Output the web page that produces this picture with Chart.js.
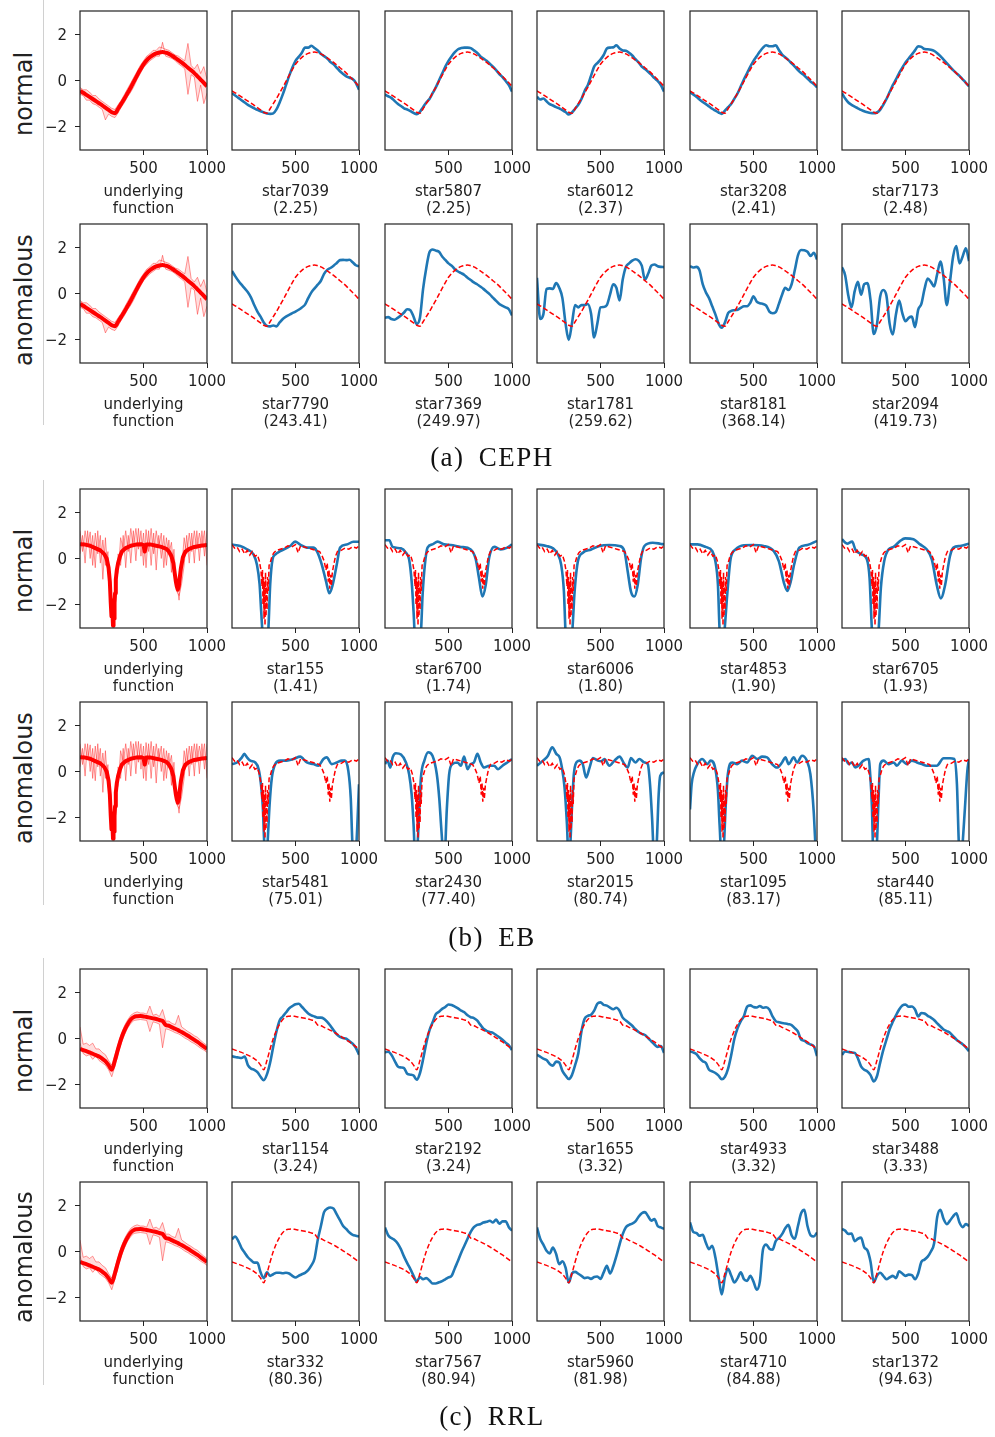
<!DOCTYPE html>
<html>
<head>
<meta charset="utf-8">
<script src="https://cdn.jsdelivr.net/npm/chart.js@4.4.0/dist/chart.umd.min.js"></script>
<style>
  html, body { margin: 0; padding: 0; background: #fff; }
  #fig { position: relative; width: 995px; height: 1437px; overflow: hidden; background: #fff; }
  .rowlab { position: absolute; font-family: "DejaVu Sans"; font-size: 24px; line-height: 24px; color: #222;
            white-space: nowrap; transform: translate(-50%, -50%) rotate(-90deg); }
  .cap { position: absolute; font-family: "Liberation Serif"; font-size: 27px; color: #111; white-space: nowrap;
         letter-spacing: 1.5px; word-spacing: 6px; transform: translate(-50%, -50%); }
  .sep { position: absolute; left: 43px; width: 1px; background: #d0d0d0; }
</style>
</head>
<body>
<div id="fig"></div>
<script>
// ---------- data ----------
const xTicks = [500, 1000]
const yTicks = [-2, 0, 2]

// common phase grid for CEPH / RRL curves
const phase = [0,25,50,75,100,125,150,175,200,225,250,275,300,325,350,375,400,425,450,475,500,
  525,550,575,600,625,650,675,700,725,750,775,800,825,850,875,900,925,950,975,1000]

// CEPH
const cephUnderlying = [-0.45,-0.53,-0.62,-0.71,-0.80,-0.89,-0.98,-1.07,-1.17,-1.27,-1.37,-1.41,-1.22,-1.00,-0.78,-0.54,-0.30,-0.04,0.22,0.47,0.70,
  0.87,1.00,1.10,1.17,1.21,1.23,1.20,1.15,1.07,0.98,0.88,0.78,0.67,0.55,0.44,0.32,0.18,0.04,-0.10,-0.25]
const cephBandA = [-0.3,-0.4,-0.4,-0.5,-0.65,-0.65,-0.8,-0.9,-1.0,-1.1,-1.2,-1.25,-1.05,-0.85,-0.6,-0.35,-0.1,0.15,0.4,0.65,0.85,
  1.05,1.15,1.3,1.3,1.45,1.4,1.35,1.3,1.2,1.1,1.05,0.95,0.85,1.6,0.65,0.5,0.7,0.3,0.6,0.05]
const cephBandB = [-0.6,-0.65,-0.85,-0.85,-1.0,-1.05,-1.15,-1.25,-1.7,-1.45,-1.55,-1.6,-1.4,-1.15,-0.95,-0.7,-0.5,-0.25,0.05,0.3,0.55,
  0.7,0.85,0.95,1.05,1.05,1.65,1.05,1.0,0.95,0.85,0.72,0.62,0.5,-0.6,0.25,0.15,-0.9,-0.2,-1.0,-0.55]

const cephNormalNames = ['star7039', 'star5807', 'star6012', 'star3208', 'star7173']
const cephNormalScores = ['(2.25)', '(2.25)', '(2.37)', '(2.41)', '(2.48)']
const star7039 = [-0.55,-0.65,-0.75,-0.85,-0.95,-1.05,-1.13,-1.2,-1.27,-1.33,-1.38,-1.42,-1.44,-1.42,-1.25,-0.95,-0.6,-0.2,0.2,0.55,0.85,
  1.02,1.2,1.42,1.42,1.5,1.4,1.3,1.15,1.05,0.95,0.8,0.7,0.55,0.4,0.28,0.18,0.12,0.06,-0.1,-0.4]
const star5807 = [-0.6,-0.68,-0.75,-0.88,-1.0,-1.1,-1.2,-1.25,-1.32,-1.4,-1.45,-1.35,-1.15,-0.95,-0.8,-0.55,-0.3,0.0,0.3,0.6,0.85,
  1.05,1.22,1.35,1.4,1.42,1.42,1.4,1.3,1.2,1.05,0.95,0.85,0.72,0.6,0.45,0.28,0.15,-0.02,-0.2,-0.48]
const star6012 = [-0.7,-0.82,-0.78,-0.9,-1.02,-1.08,-1.15,-1.2,-1.28,-1.36,-1.47,-1.38,-1.22,-1.05,-0.8,-0.45,-0.2,0.2,0.6,0.75,0.9,
  1.1,1.38,1.42,1.43,1.52,1.38,1.3,1.28,1.2,1.08,0.92,0.78,0.6,0.5,0.38,0.25,0.1,-0.02,-0.2,-0.48]
const star3208 = [-0.5,-0.6,-0.7,-0.82,-0.93,-1.02,-1.12,-1.22,-1.3,-1.38,-1.44,-1.3,-1.15,-1.0,-0.78,-0.55,-0.25,0.05,0.32,0.6,0.85,
  1.05,1.25,1.42,1.52,1.48,1.48,1.52,1.32,1.12,1.0,0.88,0.74,0.6,0.45,0.32,0.22,0.08,-0.05,-0.15,-0.3]
const star7173 = [-0.55,-0.78,-0.95,-1.05,-1.13,-1.2,-1.27,-1.33,-1.37,-1.4,-1.41,-1.38,-1.27,-1.05,-0.8,-0.5,-0.2,0.05,0.32,0.55,0.78,
  0.95,1.12,1.3,1.48,1.45,1.36,1.35,1.33,1.28,1.18,1.05,0.9,0.75,0.6,0.45,0.32,0.2,0.05,-0.1,-0.26]

const cephAnomNames = ['star7790', 'star7369', 'star1781', 'star8181', 'star2094']
const cephAnomScores = ['(243.41)', '(249.97)', '(259.62)', '(368.14)', '(419.73)']
const star7790 = [0.97,0.75,0.55,0.38,0.22,0.05,-0.18,-0.5,-0.78,-1.0,-1.25,-1.4,-1.42,-1.38,-1.42,-1.25,-1.1,-1.0,-0.92,-0.85,-0.78,
  -0.7,-0.6,-0.48,-0.2,0.05,0.22,0.38,0.55,0.85,1.02,1.1,1.2,1.32,1.44,1.45,1.44,1.46,1.35,1.22,1.17]
const star7369 = [-1.05,-1.02,-1.1,-1.13,-1.05,-0.95,-0.82,-0.68,-0.72,-1.0,-1.32,-1.05,0.2,1.1,1.78,1.9,1.85,1.8,1.6,1.45,1.3,
  1.2,1.05,0.95,0.88,0.8,0.68,0.58,0.48,0.4,0.3,0.2,0.08,-0.04,-0.18,-0.32,-0.45,-0.53,-0.6,-0.68,-0.95]
const star1781 = [0.68,-1.1,-0.9,0.2,0.22,0.2,0.45,0.25,-0.2,-1.3,-2.0,-1.3,-0.5,-0.6,-0.5,-0.5,-0.45,-0.85,-1.9,-1.3,-0.6,
  -0.58,-0.5,-0.05,0.4,0.25,-0.3,0.6,1.15,1.3,1.42,1.48,1.42,1.2,0.6,0.85,1.2,1.25,1.18,1.15,1.14]
const star8181 = [1.18,1.12,1.15,1.0,0.4,0.05,-0.2,-0.55,-0.9,-1.3,-1.48,-1.25,-0.85,-0.75,-0.72,-0.7,-0.62,-0.55,-0.55,-0.4,-0.12,
  -0.35,-0.42,-0.45,-0.52,-0.78,-0.85,-0.8,-0.45,-0.05,0.25,0.15,0.4,1.0,1.65,1.88,1.87,1.8,1.62,1.76,1.47]
const star2094 = [1.14,0.78,-0.1,-0.6,0.1,0.5,-0.05,0.4,0.45,-0.3,-1.75,-1.34,-0.15,0.15,-0.1,-1.3,-1.77,-0.9,-0.3,-0.85,-1.2,
  -1.05,-1.0,-1.45,-0.7,-0.45,0.2,0.65,0.5,0.3,0.85,1.38,0.68,-0.5,0.5,1.6,2.05,1.3,1.6,1.95,1.4]

// EB
const ebUnderlyingX = [0,40,80,120,160,190,210,225,235,242,248,252,256,260,264,268,272,276,282,290,
  300,315,330,360,400,440,480,500,510,520,560,600,640,680,700,720,735,745,755,762,770,778,785,795,810,830,860,900,950,1000]
const ebUnderlying = [0.62,0.6,0.55,0.45,0.35,0.2,0.0,-0.4,-1.0,-1.9,-2.5,-1.8,-2.4,-2.9,-2.0,-2.6,-1.9,-1.5,-0.9,-0.5,
  -0.2,0.1,0.3,0.45,0.55,0.6,0.62,0.58,0.3,0.6,0.6,0.55,0.5,0.42,0.3,0.1,-0.2,-0.6,-1.0,-1.2,-1.35,-1.2,-0.85,-0.4,0.05,0.3,0.42,0.5,0.55,0.58]
const ebBandX = [0,20,40,60,80,100,120,140,160,180,200,220,240,260,280,300,320,340,360,380,400,420,440,460,480,500,
  520,540,560,580,600,620,640,660,680,700,720,740,760,780,800,820,840,860,880,900,920,940,960,980,1000]
const ebBandA = [1.2,0.3,1.2,0.5,1.15,-0.3,1.1,0.2,1.0,-0.9,0.9,-0.6,-1.2,-2.4,-1.0,-0.6,0.9,0.4,1.2,0.3,1.3,0.5,1.3,0.4,1.2,-0.3,
  1.25,0.3,1.3,0.2,1.2,0.5,1.1,-0.4,0.9,0.2,0.7,-0.5,-1.0,-1.8,-0.5,0.9,0.2,1.1,0.3,1.2,0.4,1.1,0.5,1.2,-0.3]
const ebBandB = [0.2,1.0,-0.2,1.2,0.0,1.0,-0.4,1.2,-0.2,0.8,-0.3,0.3,-2.0,-2.8,-2.0,0.2,-0.3,1.0,-0.4,1.0,-0.2,1.2,-0.1,1.3,0.1,1.1,
  -0.4,1.2,-0.3,1.1,-0.5,1.0,0.0,1.0,-0.3,0.8,-0.6,0.4,-1.4,-1.6,-1.1,-0.3,1.0,-0.2,1.1,-0.2,1.2,-0.1,1.2,0.1,1.2]
const ebFitX = [0,20,40,60,80,100,120,140,160,180,200,215,228,236,240,244,248,252,256,260,264,268,272,276,280,285,292,300,315,330,
  350,380,410,440,470,500,520,540,570,600,630,660,690,710,725,740,750,758,764,770,776,782,790,800,815,830,860,890,920,950,980,1000]
const ebFit = [0.6,0.45,0.5,0.3,0.4,0.2,0.35,0.15,0.3,0.1,0.15,-0.1,-0.5,-1.2,-0.5,-2.0,-0.8,-2.6,-1.0,-2.9,-0.6,-2.5,-1.2,-2.2,-0.8,-1.4,-0.3,-0.2,0.1,0.25,
  0.35,0.4,0.45,0.55,0.5,0.6,0.25,0.55,0.5,0.45,0.4,0.35,0.3,0.1,-0.1,-0.5,-0.2,-1.0,-0.5,-1.3,-0.7,-1.2,-0.6,-0.3,0.1,0.3,0.35,0.45,0.4,0.5,0.45,0.55]

const ebNormalNames = ['star155', 'star6700', 'star6006', 'star4853', 'star6705']
const ebNormalScores = ['(1.41)', '(1.74)', '(1.80)', '(1.90)', '(1.93)']
const star155X = [0,65,118,170,196,217,230,245,260,275,285,301,319,340,380,458,497,537,589,640,668,707,741,767,793,825,851,903,955,1000]
const star155 = [0.6,0.54,0.4,0.17,-0.26,-1.1,-2.3,-3.6,-4.0,-3.6,-3.2,-1.1,-0.04,0.17,0.32,0.54,0.73,0.6,0.47,0.47,0.32,-0.26,-1.0,-1.5,-1.13,-0.26,0.47,0.6,0.72,0.72]
const star6700X = [0,34,60,126,165,190,210,225,240,262,283,296,314,335,374,414,466,518,597,675,715,740,767,793,820,860,910,963,1000]
const star6700 = [0.79,0.79,0.5,0.44,0.25,-0.04,-1.0,-2.3,-3.8,-4.0,-3.2,-1.57,-0.26,0.47,0.61,0.73,0.61,0.58,0.5,0.39,-0.04,-0.84,-1.64,-1.14,0.03,0.5,0.39,0.47,0.61]
const star6006X = [0,73,126,165,190,212,225,250,277,296,322,361,427,492,570,649,688,714,740,767,793,820,846,911,970,1000]
const star6006 = [0.61,0.54,0.44,0.17,-0.26,-1.43,-3.2,-4.0,-3.2,-1.43,-0.12,0.25,0.39,0.54,0.58,0.54,0.32,-0.55,-1.43,-1.64,-1.14,0.03,0.54,0.68,0.64,0.61]
const star4853X = [0,58,123,176,200,220,233,252,272,293,319,359,424,490,580,660,700,740,767,793,820,860,924,1000]
const star4853 = [0.61,0.61,0.5,0.32,-0.12,-1.14,-3.1,-4.0,-3.1,-1.57,-0.04,0.39,0.57,0.58,0.54,0.32,-0.12,-1.06,-1.4,-1.0,-0.26,0.47,0.58,0.76]
const star6705X = [0,40,80,105,157,196,217,236,262,288,306,332,366,406,458,497,563,615,668,707,746,778,812,850,877,930,1000]
const star6705 = [0.83,0.64,0.73,0.39,0.17,-0.04,-0.84,-3.1,-4.0,-3.1,-1.28,-0.12,0.39,0.5,0.76,0.87,0.83,0.61,0.39,-0.04,-1.14,-1.72,-1.14,0.1,0.47,0.54,0.64]

const ebAnomNames = ['star5481', 'star2430', 'star2015', 'star1095', 'star440']
const ebAnomScores = ['(75.01)', '(77.40)', '(80.74)', '(83.17)', '(85.11)']
const star5481X = [0,40,78,97,118,144,183,210,228,243,254,268,280,296,314,340,380,432,484,537,589,641,680,720,746,785,825,864,890,916,935,948,965,980,1000]
const star5481 = [0.32,0.39,0.61,0.76,0.61,0.47,0.39,0.1,-0.55,-1.57,-3.1,-4.0,-3.1,-1.43,-0.26,0.32,0.47,0.47,0.54,0.64,0.39,0.32,0.25,0.54,0.61,0.32,0.39,0.47,0.47,0.03,-1.14,-3.1,-4.0,-3.1,-0.55]
const star2430X = [0,20,42,60,86,126,165,190,210,225,240,256,270,283,310,340,374,408,427,445,466,487,505,531,570,597,623,650,675,700,728,754,780,820,860,890,925,963,1000]
const star2430 = [0.32,0.47,0.17,0.61,0.79,0.73,0.39,-0.12,-1.0,-2.3,-4.0,-3.2,-1.6,-0.26,0.47,0.83,0.68,-0.12,-1.14,-2.6,-4.0,-1.6,-0.12,0.32,0.39,0.25,0.64,0.1,0.32,0.39,0.76,0.39,0.17,0.25,0.25,0.1,0.25,0.39,0.54]
const star2015X = [0,47,86,120,152,178,196,217,236,250,262,275,290,310,335,360,387,414,440,479,505,531,570,610,650,688,714,740,775,806,846,872,890,906,925,942,958,970,1000]
const star2015 = [0.25,0.47,0.68,1.05,0.76,0.61,0.17,-0.7,-2.3,-4.0,-3.2,-1.6,-0.12,0.39,0.47,0.32,-0.26,0.17,0.58,0.47,0.44,0.54,0.25,0.47,0.64,0.32,0.17,0.58,0.39,0.54,0.39,0.32,-0.55,-2.0,-4.0,-3.2,-1.0,-0.19,-0.04]
const star1095X = [0,13,31,58,97,136,163,200,220,233,252,267,280,298,332,372,410,450,490,530,568,607,646,685,725,751,777,817,843,882,920,948,974,987,1000]
const star1095 = [-1.64,-0.55,-0.04,0.32,0.54,0.32,0.47,0.1,-0.84,-2.3,-4.0,-3.2,-1.6,-0.12,0.39,0.32,0.47,0.39,0.68,0.54,0.64,0.61,0.32,0.17,0.39,0.61,0.32,0.61,0.39,0.68,0.47,-0.12,-1.72,-3.1,-4.0]
const star440X = [0,26,52,78,105,130,170,210,222,236,243,259,275,288,301,327,366,406,432,471,510,550,590,628,668,707,746,800,850,884,905,920,935,950,968,987,1000]
const star440 = [0.47,0.54,0.32,0.39,0.17,0.25,0.47,0.54,-0.12,-1.57,-3.1,-4.0,-3.1,-1.14,0.32,0.47,0.32,0.39,0.25,0.47,0.32,0.47,0.39,0.32,0.25,0.25,0.25,0.57,0.57,0.54,-0.55,-3.1,-4.0,-3.1,-1.57,0.03,0.54]

// RRL
const rrlUnderlying = [-0.45,-0.5,-0.55,-0.6,-0.66,-0.72,-0.78,-0.87,-0.98,-1.15,-1.35,-0.95,-0.45,0.0,0.35,0.62,0.82,0.93,0.96,0.97,0.95,
  0.93,0.9,0.87,0.84,0.8,0.76,0.58,0.55,0.48,0.42,0.35,0.28,0.2,0.12,0.03,-0.06,-0.15,-0.25,-0.35,-0.45]
const rrlBandA = [0.5,-0.25,-0.2,-0.3,-0.2,-0.45,-0.45,-0.6,-0.7,-0.95,-1.15,-0.7,-0.25,0.2,0.55,0.8,1.0,1.1,1.15,1.1,1.1,
  1.05,1.4,1.0,1.05,0.95,1.25,0.75,0.75,0.65,0.6,1.0,0.5,0.4,0.3,0.22,0.12,0.05,-0.08,-0.2,-0.3]
const rrlBandB = [-0.2,-0.65,-0.75,-0.7,-0.9,-0.75,-0.95,-1.05,-1.15,-1.35,-1.65,-1.2,-0.65,-0.2,0.15,0.45,0.65,0.78,0.8,0.82,0.8,
  0.78,0.3,0.72,0.68,0.62,-0.4,0.42,0.38,0.32,0.25,0.2,0.12,0.02,-0.05,-0.15,-0.22,-0.32,-0.42,-0.5,-0.6]

const rrlNormalNames = ['star1154', 'star2192', 'star1655', 'star4933', 'star3488']
const rrlNormalScores = ['(3.24)', '(3.24)', '(3.32)', '(3.32)', '(3.33)']
const star1154 = [-0.76,-0.8,-0.82,-0.84,-0.78,-1.15,-1.3,-1.35,-1.45,-1.65,-1.8,-1.55,-1.05,-0.35,0.3,0.78,0.95,1.12,1.3,1.4,1.48,
  1.5,1.37,1.22,1.08,1.0,0.95,0.9,0.9,0.85,0.72,0.55,0.35,0.18,0.07,0.02,-0.01,-0.12,-0.22,-0.4,-0.7]
const star2192 = [-0.6,-0.57,-0.7,-0.95,-1.2,-1.25,-1.28,-1.52,-1.56,-1.6,-1.78,-1.5,-0.9,-0.2,0.35,0.7,1.05,1.15,1.28,1.36,1.47,
  1.45,1.38,1.3,1.2,1.13,1.0,0.92,0.88,0.78,0.6,0.42,0.33,0.28,0.24,0.15,0.05,-0.05,-0.18,-0.3,-0.5]
const star1655 = [-0.7,-0.78,-0.87,-0.93,-1.1,-1.17,-1.0,-1.04,-1.4,-1.6,-1.75,-1.58,-1.15,-0.65,0.3,0.85,0.98,1.02,1.2,1.5,1.56,
  1.45,1.42,1.33,1.26,1.33,1.2,0.9,0.78,0.67,0.55,0.4,0.28,0.2,0.15,0.02,-0.12,-0.26,-0.36,-0.33,-0.62]
const star4933 = [-0.55,-0.6,-0.67,-0.85,-0.98,-1.06,-1.35,-1.42,-1.49,-1.6,-1.76,-1.65,-1.3,-0.7,0.0,0.45,0.75,0.97,1.38,1.43,1.36,
  1.34,1.4,1.33,1.35,1.25,0.95,0.75,0.7,0.67,0.65,0.62,0.58,0.45,0.3,-0.05,-0.1,-0.2,-0.26,-0.33,-0.76]
const star3488 = [-0.7,-0.56,-0.58,-0.6,-0.62,-0.85,-1.2,-1.35,-1.42,-1.58,-1.85,-1.63,-1.05,-0.5,-0.05,0.4,0.72,1.0,1.25,1.42,1.47,
  1.37,1.38,1.25,0.95,1.1,1.08,0.98,0.9,0.8,0.65,0.52,0.39,0.32,0.25,0.1,-0.04,-0.15,-0.25,-0.38,-0.55]

const rrlAnomNames = ['star332', 'star7567', 'star5960', 'star4710', 'star1372']
const rrlAnomScores = ['(80.36)', '(80.94)', '(81.98)', '(84.88)', '(94.63)']
const star332 = [0.53,0.65,0.45,0.15,-0.05,-0.25,-0.38,-0.48,-0.48,-0.9,-1.15,-0.9,-1.05,-0.98,-0.92,-0.92,-0.94,-0.92,-0.95,-1.05,-1.12,
  -1.05,-0.98,-0.92,-0.8,-0.6,-0.3,0.5,1.1,1.7,1.85,1.9,1.85,1.6,1.35,1.1,0.97,0.82,0.72,0.68,0.65]
const star7567 = [1.04,0.7,0.58,0.5,0.35,0.1,-0.22,-0.5,-0.76,-1.05,-1.3,-1.1,-1.2,-1.15,-1.25,-1.38,-1.38,-1.33,-1.28,-1.2,-1.12,
  -1.05,-0.72,-0.4,-0.05,0.25,0.55,0.85,1.05,1.15,1.18,1.25,1.28,1.33,1.25,1.38,1.2,1.3,1.3,1.05,0.9]
const star5960 = [1.04,0.55,0.3,0.03,-0.08,0.17,-0.1,-0.55,-0.42,-0.7,-1.34,-0.95,-0.88,-0.96,-1.05,-1.15,-1.12,-1.18,-1.1,-1.08,-1.18,
  -0.9,-0.62,-0.95,-0.65,-0.2,0.3,0.75,1.05,1.15,1.2,1.3,1.5,1.65,1.7,1.52,1.33,1.4,1.1,1.04,0.97]
const star4710 = [1.26,0.85,0.8,0.68,0.72,0.38,0.1,0.25,-0.26,-1.1,-1.85,-1.1,-0.75,-1.05,-1.34,-1.15,-0.9,-1.2,-1.27,-1.05,-1.3,
  -1.65,-1.3,0.1,0.3,0.12,0.08,0.45,0.58,0.75,1.0,1.15,0.7,0.55,1.1,1.65,1.8,1.1,0.7,0.65,0.82]
const star1372 = [0.97,0.9,0.76,0.78,0.45,0.55,0.6,0.18,0.05,-0.45,-1.32,-1.05,-0.92,-1.05,-1.2,-1.12,-1.05,-1.15,-0.85,-0.95,-1.05,
  -1.0,-1.02,-1.2,-0.95,-0.45,-0.35,-0.22,0.0,0.35,1.5,1.8,1.4,1.18,1.33,1.52,1.65,1.25,1.05,1.18,1.1]

// ---------- layout ----------
const colLefts = [80, 232, 385, 537, 690, 842]
const rowTops = [11, 224, 489, 702, 969, 1182]
const PW = 127, PH = 139
const Y_W = 40, PAD_T = 22, PAD_R = 26, X_H = 68
const TXT = '#222'
const FONT = 'DejaVu Sans'

const fig = document.getElementById('fig')

const pts = (xs, ys) => ys.map((y, i) => ({x: xs[i], y: y}))
const minus = v => (v < 0 ? '\u2212' + Math.abs(v) : String(v))

const framePlugin = {
  id: 'frame',
  afterDatasetsDraw(chart) {
    const {ctx, chartArea: a} = chart
    ctx.save()
    ctx.strokeStyle = '#222'
    ctx.lineWidth = 1.2
    ctx.strokeRect(a.left, a.top, a.right - a.left, a.bottom - a.top)
    ctx.restore()
  }
}

function makePanel(left, top, datasets, showY, title) {
  const c = document.createElement('canvas')
  const W = Y_W + PW + PAD_R, H = PAD_T + PH + X_H
  c.width = W
  c.height = H
  c.style.cssText = `position:absolute;left:${left - Y_W}px;top:${top - PAD_T}px;width:${W}px;height:${H}px`
  fig.appendChild(c)
  new Chart(c, {
    type: 'line',
    data: {datasets},
    options: {
      responsive: false, animation: false, devicePixelRatio: 1, events: [],
      layout: {padding: {top: PAD_T, right: PAD_R, left: 0, bottom: 0}},
      plugins: {legend: {display: false}, tooltip: {enabled: false}},
      elements: {point: {radius: 0}},
      scales: {
        x: {
          type: 'linear', min: 0, max: 1000,
          afterBuildTicks: s => { s.ticks = xTicks.map(v => ({value: v})) },
          afterFit: s => { s.height = X_H },
          ticks: {font: {family: FONT, size: 15}, color: TXT, padding: 5, maxRotation: 0, autoSkip: false,
                  callback: v => String(v)},
          grid: {display: true, drawOnChartArea: false, drawTicks: true, tickLength: 5, color: '#222', lineWidth: 1},
          border: {display: false},
          title: {display: true, text: title, color: TXT, padding: 0,
                  font: {family: FONT, size: 15, lineHeight: '17px'}}
        },
        y: {
          type: 'linear', min: -3, max: 3,
          afterBuildTicks: s => { s.ticks = yTicks.map(v => ({value: v})) },
          afterFit: s => { s.width = Y_W },
          ticks: {display: showY, font: {family: FONT, size: 15}, color: TXT, padding: 8, labelOffset: 1.5, callback: minus},
          grid: {display: showY, drawOnChartArea: false, drawTicks: true, tickLength: 5, color: '#222', lineWidth: 1},
          border: {display: false}
        }
      }
    },
    plugins: [framePlugin]
  })
}

function underlyingSets(xs, ys, bx, bandA, bandB, smooth) {
  const band = {borderColor: 'rgba(255,0,0,0.4)', borderWidth: 1, tension: 0, pointRadius: 0}
  return [
    {data: pts(xs, ys), borderColor: 'red', borderWidth: 4, pointRadius: 0,
     cubicInterpolationMode: smooth ? 'monotone' : 'default', tension: 0, borderJoinStyle: 'round'},
    Object.assign({data: pts(bx, bandA), fill: '+1', backgroundColor: 'rgba(255,0,0,0.13)'}, band),
    Object.assign({data: pts(bx, bandB), fill: false}, band)
  ]
}

function starSets(fx, fy, sx, sy, smoothFit) {
  return [
    {data: pts(fx, fy), borderColor: 'red', borderWidth: 1.5, borderDash: [5, 2.5], pointRadius: 0,
     cubicInterpolationMode: smoothFit ? 'monotone' : 'default', tension: 0},
    {data: pts(sx, sy), borderColor: '#1f77b4', borderWidth: 2.6, pointRadius: 0,
     cubicInterpolationMode: 'monotone', borderJoinStyle: 'round'}
  ]
}

const rows = [
  {top: rowTops[0], u: [phase, cephUnderlying, phase, cephBandA, cephBandB, true], fit: [phase, cephUnderlying, true],
   names: cephNormalNames, scores: cephNormalScores,
   series: [[phase, star7039], [phase, star5807], [phase, star6012], [phase, star3208], [phase, star7173]]},
  {top: rowTops[1], u: [phase, cephUnderlying, phase, cephBandA, cephBandB, true], fit: [phase, cephUnderlying, true],
   names: cephAnomNames, scores: cephAnomScores,
   series: [[phase, star7790], [phase, star7369], [phase, star1781], [phase, star8181], [phase, star2094]]},
  {top: rowTops[2], u: [ebUnderlyingX, ebUnderlying, ebBandX, ebBandA, ebBandB, false], fit: [ebFitX, ebFit, false],
   names: ebNormalNames, scores: ebNormalScores,
   series: [[star155X, star155], [star6700X, star6700], [star6006X, star6006], [star4853X, star4853], [star6705X, star6705]]},
  {top: rowTops[3], u: [ebUnderlyingX, ebUnderlying, ebBandX, ebBandA, ebBandB, false], fit: [ebFitX, ebFit, false],
   names: ebAnomNames, scores: ebAnomScores,
   series: [[star5481X, star5481], [star2430X, star2430], [star2015X, star2015], [star1095X, star1095], [star440X, star440]]},
  {top: rowTops[4], u: [phase, rrlUnderlying, phase, rrlBandA, rrlBandB, true], fit: [phase, rrlUnderlying, true],
   names: rrlNormalNames, scores: rrlNormalScores,
   series: [[phase, star1154], [phase, star2192], [phase, star1655], [phase, star4933], [phase, star3488]]},
  {top: rowTops[5], u: [phase, rrlUnderlying, phase, rrlBandA, rrlBandB, true], fit: [phase, rrlUnderlying, true],
   names: rrlAnomNames, scores: rrlAnomScores,
   series: [[phase, star332], [phase, star7567], [phase, star5960], [phase, star4710], [phase, star1372]]}
]

rows.forEach(r => {
  makePanel(colLefts[0], r.top, underlyingSets(...r.u), true, ['underlying', 'function'])
  r.series.forEach((s, i) => {
    makePanel(colLefts[i + 1], r.top, starSets(r.fit[0], r.fit[1], s[0], s[1], r.fit[2]), false, [r.names[i], r.scores[i]])
  })
})

// row labels, separators and captions
const rowLabels = [['normal', 94], ['anomalous', 300], ['normal', 571], ['anomalous', 778], ['normal', 1051], ['anomalous', 1257]]
rowLabels.forEach(([t, y]) => {
  const d = document.createElement('div')
  d.className = 'rowlab'
  d.textContent = t
  d.style.left = '24px'
  d.style.top = y + 'px'
  fig.appendChild(d)
})

const seps = [[0, 425], [480, 905], [958, 1385]]
seps.forEach(([a, b]) => {
  const d = document.createElement('div')
  d.className = 'sep'
  d.style.top = a + 'px'
  d.style.height = (b - a) + 'px'
  fig.appendChild(d)
})

const captions = [['(a) CEPH', 457], ['(b) EB', 937], ['(c) RRL', 1416]]
captions.forEach(([t, y]) => {
  const d = document.createElement('div')
  d.className = 'cap'
  d.textContent = t
  d.style.left = '492px'
  d.style.top = y + 'px'
  fig.appendChild(d)
})
</script>
</body>
</html>
